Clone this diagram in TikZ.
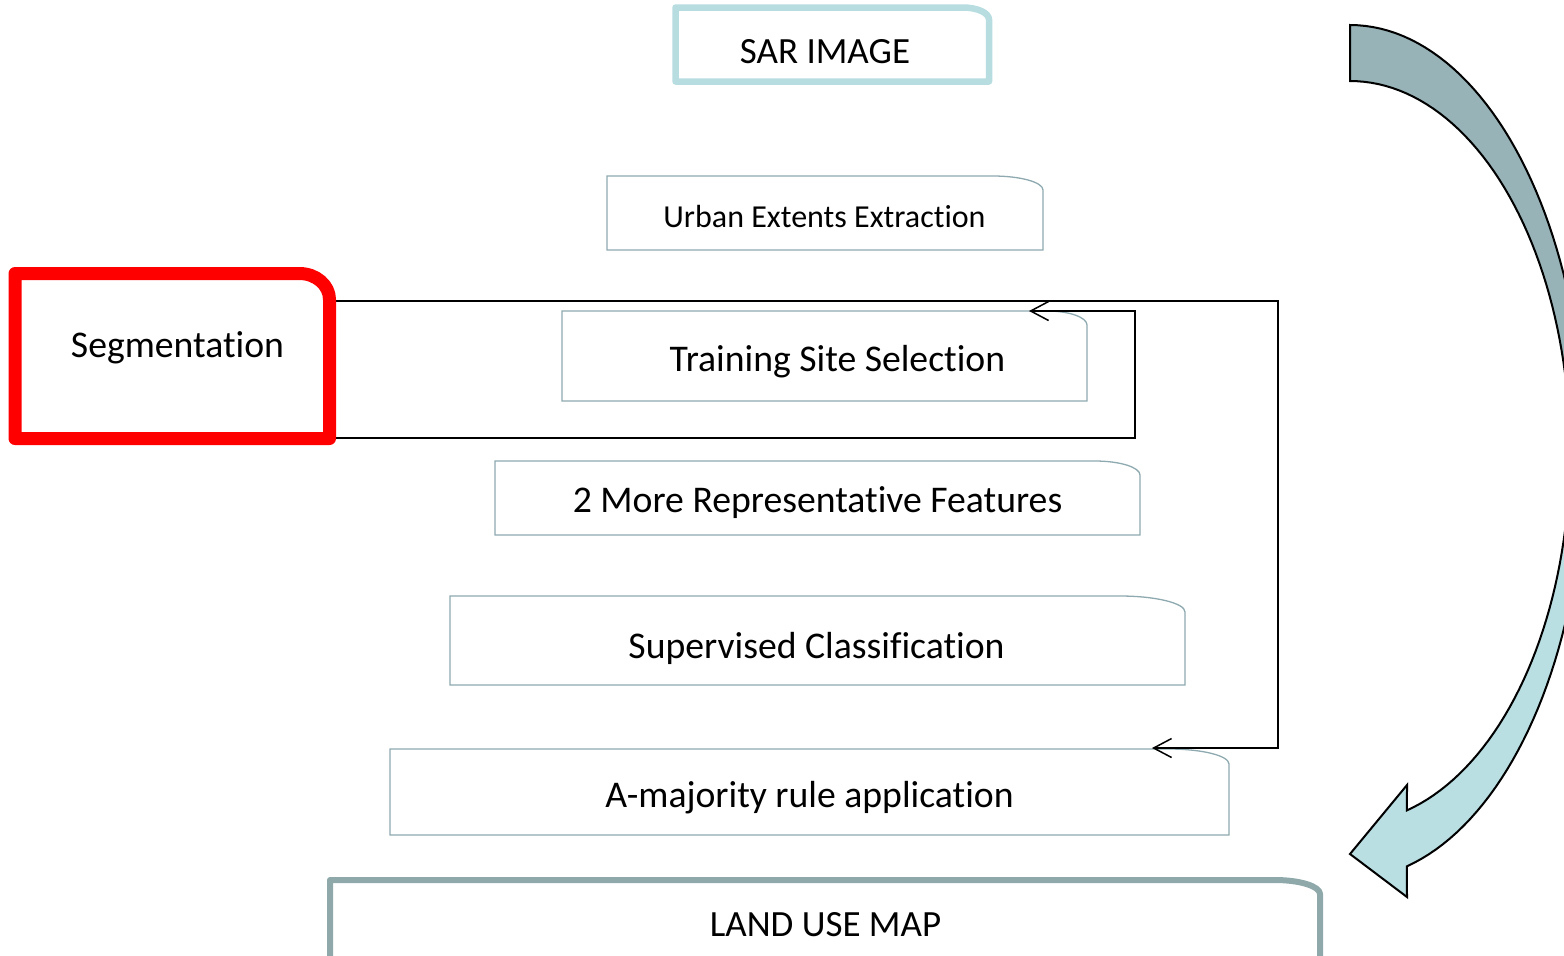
\documentclass[tikz,border=0pt]{standalone}
\usepackage{fontspec}
\setmainfont{Carlito}[RawFeature={-liga;-clig;-calt;-dlig}]
\usetikzlibrary{arrows.meta}
\definecolor{boxline}{HTML}{8EAAB0}
\definecolor{sarline}{HTML}{B7DDE1}
\definecolor{landline}{HTML}{8FA9AB}
\definecolor{arrowdark}{HTML}{97B3B7}
\definecolor{arrowlight}{HTML}{B9DFE3}
\definecolor{segred}{HTML}{FF0000}
% style, x1, y1, x2, y2, rx, ry : rectangle with top-right elliptical corner
\newcommand{\cbox}[7]{%
  \draw[#1] (#2,#5) -- (#2,#3) -- ({#4-#6},#3)
    .. controls ({#4-0.4477*#6},#3) and (#4,{#3+0.4477*#7}) .. (#4,{#3+#7})
    -- (#4,#5) -- cycle;}
\begin{document}
\begin{tikzpicture}[x=0.5pt,y=-0.5pt,
  thinbox/.style={draw=boxline,line width=0.65pt},
  sarbox/.style={draw=sarline,line width=3.25pt,line join=round},
  landbox/.style={draw=landline,line width=3pt,line join=round},
  segbox/.style={draw=segred,line width=6.5pt,line join=round},
  lbl/.style={inner sep=0pt,anchor=base,text=black,font=\fontsize{18.85}{22}\selectfont},
  caplbl/.style={inner sep=0pt,anchor=base,text=black,font=\fontsize{18.5}{22}\selectfont},
  smalllbl/.style={inner sep=0pt,anchor=base,text=black,font=\fontsize{16}{19}\selectfont},
  conn/.style={draw=black,line width=0.75pt,-{Straight Barb[length=9pt,width=9.5pt,line width=0.75pt]}},
  arrowline/.style={draw=black,line width=1pt,line join=miter}]
\useasboundingbox (0,0) rectangle (1564,955);
\fill[white] (0,0) rectangle (1564,955);
\clip (0,0) rectangle (1564,955);

% curved block arrow
\fill[arrowlight] (1350,25) -- plot[domain=-90:76,samples=90] ({1350+235*cos(\x)},{452+427*sin(\x)})
  -- (1407,897) -- (1350,854) -- (1407,785)
  -- plot[domain=75:-90,samples=90] ({1350+220*cos(\x)},{452+371*sin(\x)}) -- cycle;
\begin{scope}
\clip (1300,0) rectangle (1600,450);
\fill[arrowdark] (1350,25) -- plot[domain=-90:76,samples=90] ({1350+235*cos(\x)},{452+427*sin(\x)})
  -- (1407,897) -- (1350,854) -- (1407,785)
  -- plot[domain=75:-90,samples=90] ({1350+220*cos(\x)},{452+371*sin(\x)}) -- cycle;
\end{scope}
\draw[arrowline] (1350,25) -- plot[domain=-90:76,samples=90] ({1350+235*cos(\x)},{452+427*sin(\x)})
  -- (1407,897) -- (1350,854) -- (1407,785)
  -- plot[domain=75:-90,samples=90] ({1350+220*cos(\x)},{452+371*sin(\x)}) -- cycle;

% boxes
\cbox{sarbox}{675.5}{7.5}{989}{81.5}{26}{12}
\cbox{thinbox}{607}{176}{1043}{250}{50}{14}
\cbox{thinbox}{562}{311}{1087}{401}{40}{14}
\cbox{thinbox}{495}{461}{1140}{535}{45}{14}
\cbox{thinbox}{450}{596}{1185}{685}{65}{16}
\cbox{thinbox}{390}{749}{1229}{835}{60}{15}
\cbox{landbox}{330}{880}{1320}{970}{45}{14}

% connectors
\coordinate (s1) at (336,301);
\coordinate (c1) at (1278,301);
\coordinate (c2) at (1278,748);
\coordinate (amaj) at (1152,748);
\coordinate (s2) at (336,438);
\coordinate (c3) at (1135,438);
\coordinate (c4) at (1135,311);
\coordinate (trs) at (1029,311);
\draw[conn] (s1) -- (c1) -- (c2) -- (amaj);
\draw[conn] (s2) -- (c3) -- (c4) -- (trs);

\cbox{segbox}{15}{273.5}{329.5}{438.5}{30}{26}

% labels
\node[caplbl] (sar) at (825,63) {SAR IMAGE};
\node[smalllbl] (urban) at (824.5,227) {Urban Extents Extraction};
\node[lbl] (train) at (837.5,371) {Training Site Select\kern0pt ion};
\node[lbl] (seg) at (177.5,357) {Segmentat\kern0pt ion};
\node[lbl] (feat) at (817.5,512) {2 More Representative Features};
\node[lbl] (sup) at (816.5,658) {Supervised Classification};
\node[lbl] (maj) at (809.5,807) {A-majority rule applicat\kern0pt ion};
\node[caplbl] (land) at (825.5,936) {LAND USE MAP};
\end{tikzpicture}
\end{document}
